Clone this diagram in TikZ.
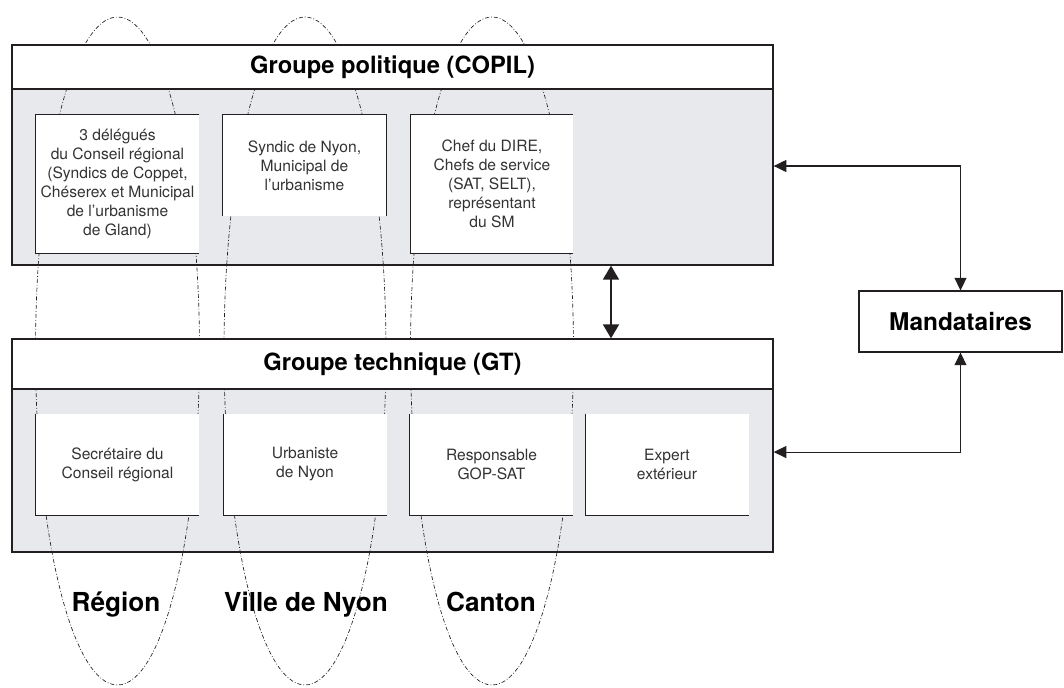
\documentclass[tikz,border=0pt]{standalone}
\usepackage{fontspec}
\setmainfont{TeX Gyre Heros}
\usetikzlibrary{arrows.meta}
\definecolor{fondgris}{RGB}{232,233,237}
\definecolor{trait}{RGB}{35,31,32}
\begin{document}
\begin{tikzpicture}[x=0.75pt,y=-0.75pt,
  groupe/.style={draw=trait, line width=1pt, fill=fondgris, inner sep=0pt, minimum width=570.75pt},
  bandeau/.style={draw=trait, line width=1pt, fill=white, inner sep=0pt, minimum width=570.75pt, font=\fontsize{17.8}{20}\selectfont\bfseries},
  membre/.style={fill=white, inner sep=0pt, minimum width=122.25pt, align=center, text=black!80, font=\fontsize{11.7}{14.25}\selectfont},
  bord/.style={draw=trait, line width=0.6pt},
  zone/.style={draw=trait, line width=0.5pt, dash pattern=on 3pt off 1.5pt on 0.6pt off 1.5pt},
  etiquette/.style={font=\fontsize{19.6}{22}\selectfont\bfseries, anchor=base},
  fleche/.style={draw=trait, line width=0.8pt, {Triangle[length=9.5pt,width=9pt]}-{Triangle[length=9.5pt,width=9pt]}},
  grosse/.style={draw=trait, line width=1.4pt, {Triangle[length=10.5pt,width=12pt]}-{Triangle[length=10.5pt,width=12pt]}}]
\useasboundingbox (0,0) rectangle (1064,687);
\node[groupe, minimum height=165pt] (copil) at (392.5,155) {};
\node[groupe, minimum height=159.75pt] (gt) at (392.5,445.5) {};
\draw[zone] (117.5,351) ellipse [x radius=82, y radius=334];
\draw[zone] (305,351) ellipse [x radius=81, y radius=334];
\draw[zone] (492,351) ellipse [x radius=81.5, y radius=334];
\node[bandeau, minimum height=33pt] (copilt) at (392.5,67) {Groupe politique (COPIL)};
\node[bandeau, minimum height=37.5pt] (gtt) at (392.5,364) {Groupe technique (GT)};
\node[membre, minimum height=103.5pt] (pol1) at (117.5,184) {3 délégués\\du Conseil régional\\(Syndics de Coppet,\\Chéserex et Municipal\\de l’urbanisme\\de Gland)};
\node[membre, minimum height=75.75pt] (pol2) at (304.5,165.5) {Syndic de Nyon,\\Municipal de\\l’urbanisme};
\node[membre, minimum height=103.5pt, minimum width=121.5pt] (pol3) at (492,184) {Chef du DIRE,\\Chefs de service\\(SAT, SELT),\\représentant\\du SM};
\node[membre, minimum height=75.75pt] (tec1) at (117.5,464.5) {Secrétaire du\\Conseil régional};
\node[membre, minimum height=75.75pt] (tec2) at (305,464.5) {Urbaniste\\de Nyon};
\node[membre, minimum height=75.75pt] (tec3) at (491.5,464.5) {Responsable\\GOP-SAT};
\node[membre, minimum height=75.75pt] (tec4) at (667,464.5) {Expert\\extérieur};
\foreach \n in {pol1,pol3}
  \draw[bord] (\n.north east) -- (\n.north west) -- (\n.south west) -- (\n.south east);
\draw[bord] (pol2.south west) -- (pol2.north west) -- (pol2.north east) -- (pol2.south east);
\foreach \n in {tec1,tec2,tec3,tec4}
  \draw[bord] (\n.north west) |- (\n.south east);
\node[draw=trait, line width=0.8pt, fill=white, minimum width=152.25pt, minimum height=45.75pt, font=\fontsize{18.3}{20}\selectfont\bfseries] (mand) at (960.5,321.5) {Mandataires};
\coordinate (axe) at (611,0);
\draw[fleche] (mand.north) |- ([yshift=-8.25pt]copil.east);
\draw[fleche] (mand.south) |- ([yshift=-4.9pt]gt.east);
\draw[grosse] (copil.south -| axe) -- (gt.north -| axe);
\node[etiquette] (reg) at (116,611) {Région};
\node[etiquette] (ville) at (306,611) {Ville de Nyon};
\node[etiquette] (cant) at (491,611) {Canton};
\end{tikzpicture}
\end{document}
